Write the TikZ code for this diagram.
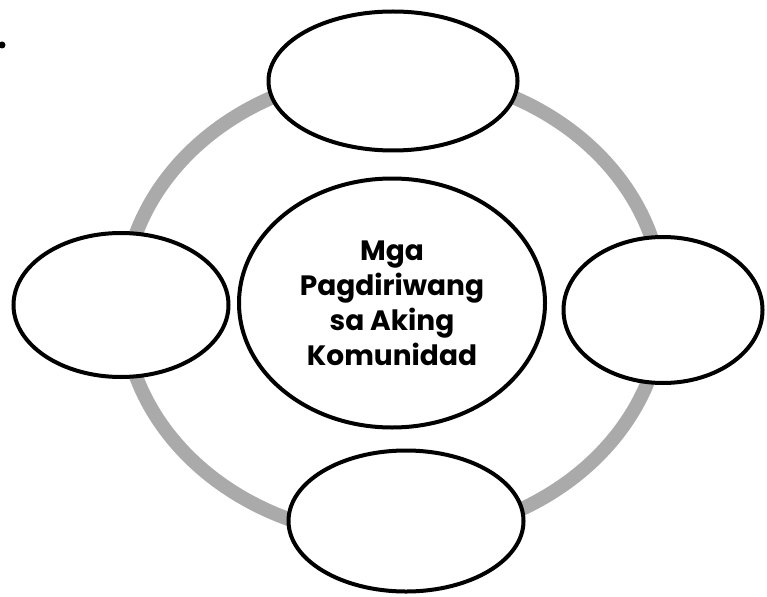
\documentclass[tikz,border=0pt]{standalone}
\usepackage{fontspec}
\setmainfont{Poppins}
\usepackage{tikz}
\usetikzlibrary{shapes.geometric, positioning}
\definecolor{ringgray}{HTML}{AAAAAA}
\definecolor{darkline}{HTML}{000000}
\tikzset{
  bubble/.style={
    ellipse, draw=darkline, line width=4pt,
    fill=white, inner sep=0pt,
  },
  hub/.style={
    bubble, align=center,
    font=\fontsize{28}{35}\selectfont\bfseries,
  },
  ring/.style={draw=ringgray, line width=14pt},
  bullet/.style={circle, fill=black, inner sep=0pt, minimum size=7pt},
}
\begin{document}
\begin{tikzpicture}[x=1pt, y=-1pt]
  \useasboundingbox (0,0) rectangle (767,596);

  \node[bullet] (dot) at (2,45) {};

  % gray ring behind the bubbles
  \coordinate (mid) at (393,305);
  \draw[ring] (mid) ellipse [x radius=270, y radius=232];

  \node[hub, minimum width=306pt, minimum height=249pt] (center) at (392,303)
    {Mga\\Pagdiriwang\\sa Aking\\Komunidad};
  \node[bubble, minimum width=249pt, minimum height=139pt] (top) at (393,81) {};
  \node[bubble, minimum width=215pt, minimum height=144pt] (left) at (121,305) {};
  \node[bubble, minimum width=199pt, minimum height=146pt] (right) at (663,310) {};
  \node[bubble, minimum width=235pt, minimum height=141pt] (bottom) at (406,521) {};

\end{tikzpicture}
\end{document}
